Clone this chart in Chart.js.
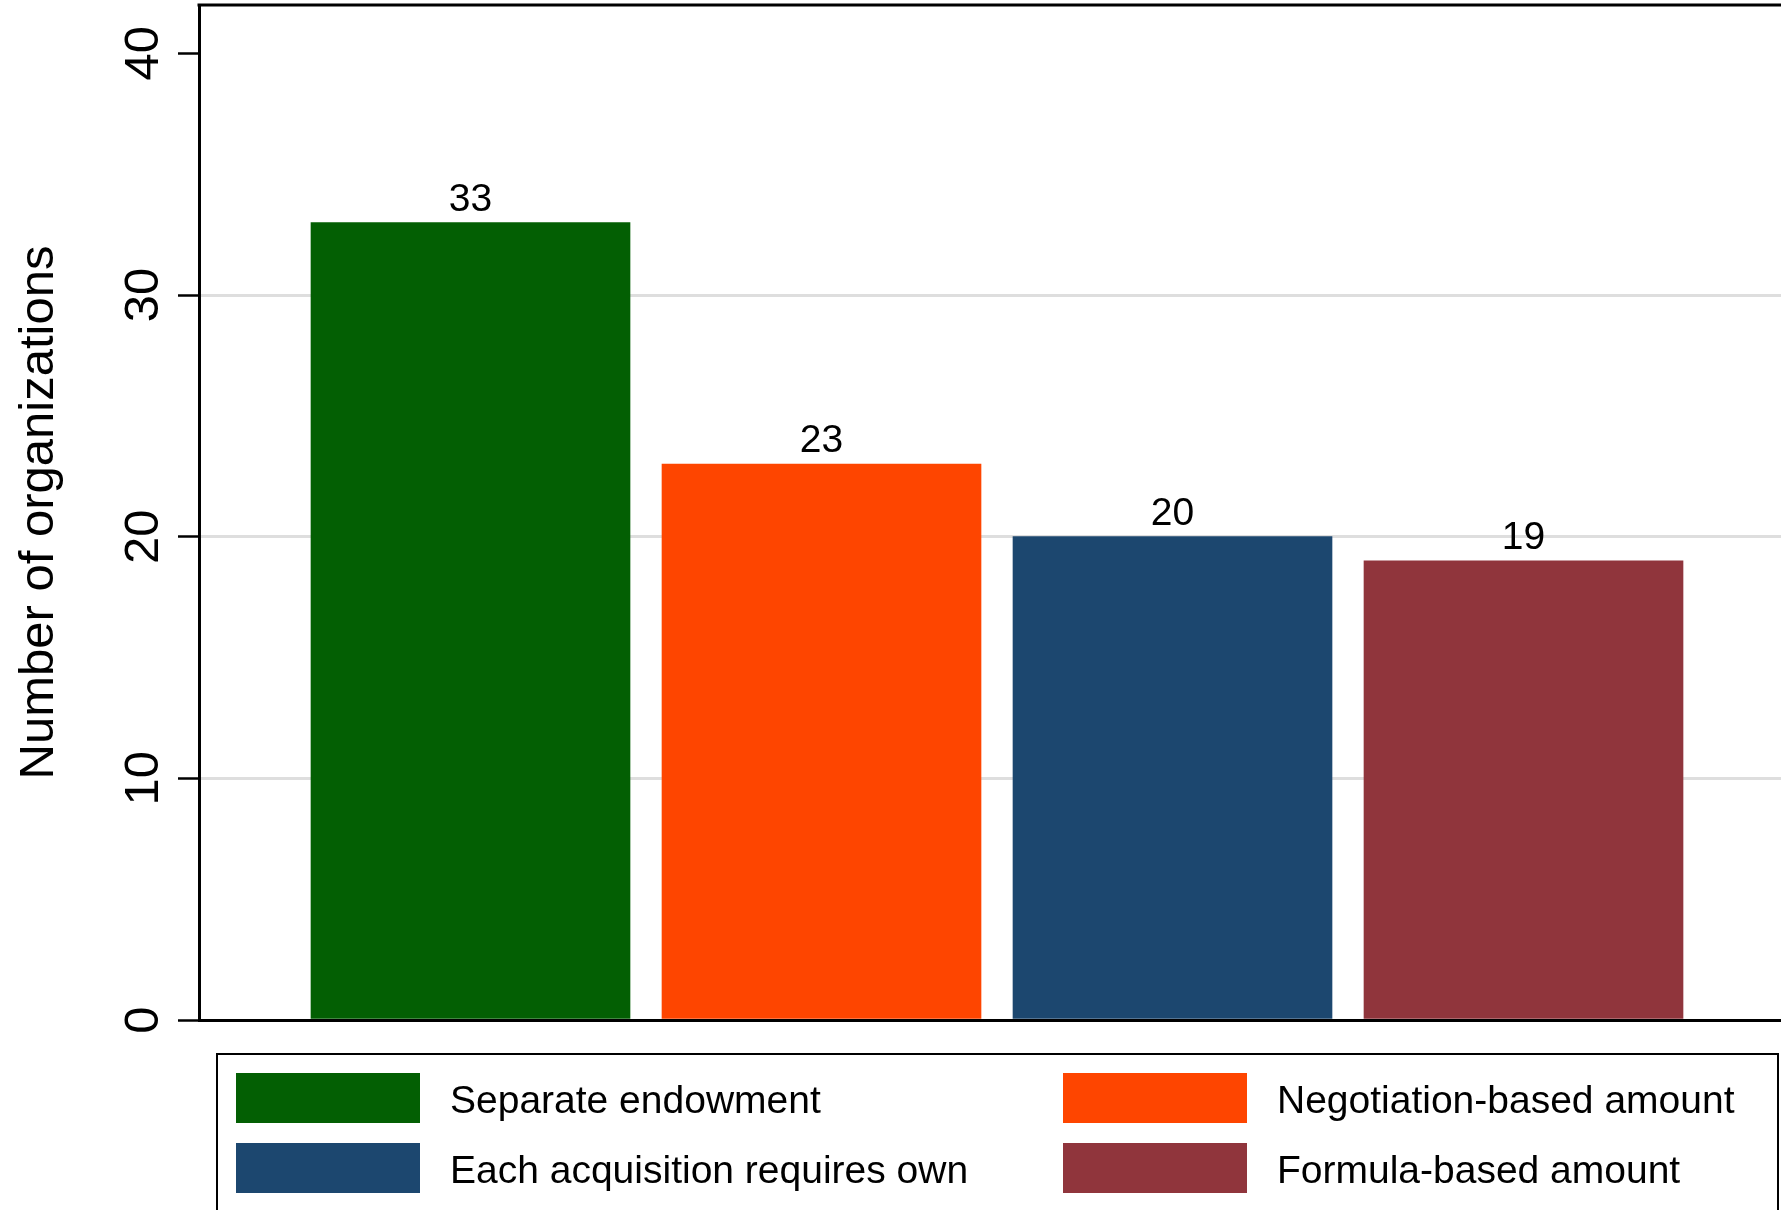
<!DOCTYPE html>
<html>
<head>
<meta charset="utf-8">
<script src="https://cdn.jsdelivr.net/npm/chart.js@4/dist/chart.umd.min.js"></script>
<style>
  html, body { margin: 0; padding: 0; background: #fff; }
  #wrap { position: relative; width: 1781px; height: 1210px; overflow: hidden; font-family: "Liberation Sans", Arial, Helvetica, sans-serif; }
  #c { position: absolute; left: 0; top: 0; }
  .lg-box { position: absolute; border: 2.5px solid #000; box-sizing: border-box; }
  .lg-sw { position: absolute; }
  .lg-tx { position: absolute; font-size: 39px; color: #000; white-space: nowrap; line-height: 50px; }
</style>
</head>
<body>
<div id="wrap">
  <canvas id="c" width="1781" height="1210"></canvas>
</div>
<script>
// ---- data ----
const categories = ["Separate endowment", "Negotiation-based amount", "Each acquisition requires own", "Formula-based amount"];
const values = [33, 23, 20, 19];
const colors = ["#035f03", "#fe4500", "#1c476f", "#90353c"];
const yTicks = [0, 10, 20, 30, 40];
const yTitle = "Number of organizations";

const FONT = '"Liberation Sans", Arial, Helvetica, sans-serif';

const datasets = categories.map((c, i) => ({
  label: c,
  data: [{ x: i + 1, y: values[i] }],
  backgroundColor: colors[i],
  borderWidth: 0,
  grouped: false,
  barThickness: 319
}));

const valueLabels = {
  id: 'valueLabels',
  afterDatasetsDraw(chart) {
    const ctx = chart.ctx;
    ctx.save();
    ctx.font = '39px ' + FONT;
    ctx.fillStyle = '#000';
    ctx.textAlign = 'center';
    ctx.textBaseline = 'alphabetic';
    chart.data.datasets.forEach((ds, i) => {
      const meta = chart.getDatasetMeta(i);
      meta.data.forEach((el, j) => {
        ctx.fillText(String(ds.data[j].y), el.x, el.y - 12);
      });
    });
    ctx.restore();
  }
};

const topBorder = {
  id: 'topBorder',
  afterDraw(chart) {
    const { ctx, chartArea } = chart;
    ctx.save();
    ctx.strokeStyle = '#000';
    ctx.lineWidth = 3;
    ctx.beginPath();
    ctx.moveTo(chartArea.left - 1.5, chartArea.top);
    ctx.lineTo(chartArea.right, chartArea.top);
    ctx.stroke();
    ctx.restore();
  }
};

new Chart(document.getElementById('c'), {
  type: 'bar',
  data: { datasets },
  plugins: [valueLabels, topBorder],
  options: {
    responsive: false,
    animation: false,
    devicePixelRatio: 1,
    layout: { padding: { top: 5, bottom: 190, left: 0, right: 0 } },
    plugins: { legend: { display: false }, tooltip: { enabled: false } },
    scales: {
      x: {
        type: 'linear',
        offset: false,
        min: 0.2265,
        max: 4.7336,
        ticks: { display: false, stepSize: 1, includeBounds: false },
        grid: { display: false, drawTicks: false, offset: false },
        border: { display: true, color: '#000', width: 3 },
        afterFit(s) { s.height = 0; s.paddingLeft = 0; s.paddingRight = 0; }
      },
      y: {
        min: 0,
        max: 42,
        afterBuildTicks(s) { s.ticks = yTicks.map(v => ({ value: v })); },
        ticks: {
          minRotation: 90,
          maxRotation: 90,
          crossAlign: 'center',
          padding: 6,
          color: '#000',
          font: { family: FONT, size: 49 }
        },
        grid: {
          color: (c) => (c.tick && c.tick.value === 40) ? 'rgba(0,0,0,0)' : '#dedede',
          lineWidth: 3,
          tickColor: '#000',
          tickWidth: 2.5,
          tickLength: 21
        },
        border: { display: true, color: '#000', width: 3 },
        title: {
          display: true,
          text: yTitle,
          color: '#000',
          font: { family: FONT, size: 49 },
          padding: { top: 10, bottom: 0 }
        },
        afterFit(s) { s.width = 199; s.paddingTop = 0; s.paddingBottom = 0; }
      }
    }
  }
});

// ---- legend (built from the same arrays) ----
const wrap = document.getElementById('wrap');
const box = document.createElement('div');
box.className = 'lg-box';
Object.assign(box.style, { left: '216px', top: '1053px', width: '1563px', height: '220px' });
wrap.appendChild(box);
const colSw = [236, 1063], colTx = [450, 1277], rowTop = [1073, 1143];
categories.forEach((c, i) => {
  const col = i % 2, row = Math.floor(i / 2);
  const sw = document.createElement('div');
  sw.className = 'lg-sw';
  Object.assign(sw.style, { left: colSw[col] + 'px', top: rowTop[row] + 'px', width: '184px', height: '50px', background: colors[i] });
  wrap.appendChild(sw);
  const tx = document.createElement('div');
  tx.className = 'lg-tx';
  tx.textContent = c;
  Object.assign(tx.style, { left: colTx[col] + 'px', top: (rowTop[row] + 2) + 'px' });
  wrap.appendChild(tx);
});
</script>
</body>
</html>
